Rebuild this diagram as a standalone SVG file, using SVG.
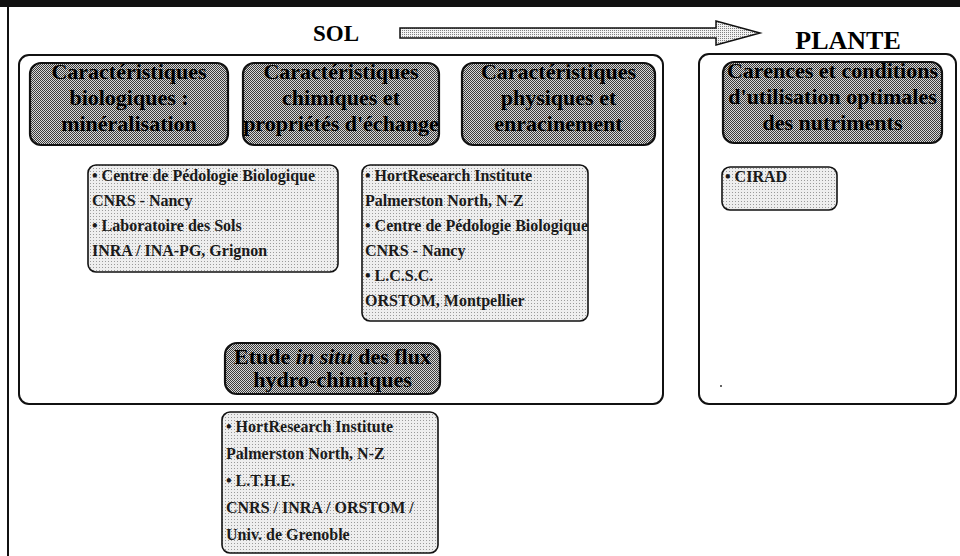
<svg xmlns="http://www.w3.org/2000/svg" width="960" height="556" viewBox="0 0 960 556">
<defs>
  <pattern id="dk" width="2" height="2" patternUnits="userSpaceOnUse">
    <rect width="2" height="2" fill="#d8d8d8"/>
    <rect width="1" height="1" fill="#3a3a3a"/>
    <rect x="1" y="1" width="1" height="1" fill="#3a3a3a"/>
  </pattern>
  <pattern id="lt" width="3" height="3" patternUnits="userSpaceOnUse">
    <rect width="3" height="3" fill="#eeeeee"/>
    <rect width="1" height="1" fill="#9a9a9a"/>
  </pattern>
  <pattern id="ar" width="2" height="2" patternUnits="userSpaceOnUse">
    <rect width="2" height="2" fill="#f2f2f2"/>
    <rect width="1" height="1" fill="#808080"/>
  </pattern>
</defs>
<style>
  .panel{fill:#fff;stroke:#111;stroke-width:2}
  .head{fill:url(#dk);stroke:#111;stroke-width:2.2}
  .sub{fill:url(#lt);stroke:#111;stroke-width:1.6}
  .ht{font-family:"Liberation Serif","Times New Roman",serif;font-weight:bold;font-size:22px;fill:#000;text-anchor:middle}
  .st{font-family:"Liberation Serif","Times New Roman",serif;font-weight:bold;font-size:16px;fill:#1a1a1a}
  .tt{font-family:"Liberation Serif","Times New Roman",serif;font-weight:bold;fill:#000}
</style>
<rect x="0" y="0" width="960" height="556" fill="#fff"/>
<rect x="0" y="0" width="960" height="7" fill="#111"/>
<line x1="8" y1="7" x2="8" y2="556" stroke="#111" stroke-width="2"/>

<g id="title-sol"><text class="tt" x="336" y="41" font-size="23" text-anchor="middle">SOL</text></g>
<g id="title-plante"><text class="tt" x="848" y="49" font-size="26" text-anchor="middle">PLANTE</text></g>

<g id="connectors">
  <path d="M400,28 L716,28 L716,21 L760,33 L716,45 L716,38 L400,38 Z" fill="url(#ar)" stroke="#111" stroke-width="1.5"/>
</g>

<g id="panel-sol"><rect class="panel" x="19" y="55" width="644" height="349" rx="10"/></g>
<g id="panel-plante"><rect class="panel" x="699" y="54" width="257" height="350" rx="10"/><circle cx="721" cy="386" r="1" fill="#333"/></g>

<g id="n-bio">
  <rect class="head" x="30" y="63" width="198" height="82" rx="11"/>
  <text class="ht" x="129" y="79">Caractéristiques</text>
  <text class="ht" x="129" y="105">biologiques :</text>
  <text class="ht" x="129" y="131">minéralisation</text>
</g>
<g id="n-chim">
  <rect class="head" x="243" y="63" width="196" height="82" rx="11"/>
  <text class="ht" x="341" y="79">Caractéristiques</text>
  <text class="ht" x="341" y="105">chimiques et</text>
  <text class="ht" x="341" y="131">propriétés d'échange</text>
</g>
<g id="n-phys">
  <rect class="head" x="462" y="63" width="193" height="82" rx="11"/>
  <text class="ht" x="558.5" y="79">Caractéristiques</text>
  <text class="ht" x="558.5" y="105">physiques et</text>
  <text class="ht" x="558.5" y="131">enracinement</text>
</g>
<g id="n-carences">
  <rect class="head" x="723" y="62" width="219" height="81" rx="11"/>
  <text class="ht" x="832.5" y="78">Carences et conditions</text>
  <text class="ht" x="832.5" y="104">d'utilisation optimales</text>
  <text class="ht" x="832.5" y="130">des nutriments</text>
</g>

<g id="n-labs-bio">
  <rect class="sub" x="88" y="165" width="250" height="107" rx="8"/>
  <text class="st" x="92" y="181">• Centre de Pédologie Biologique</text>
  <text class="st" x="92" y="206">CNRS - Nancy</text>
  <text class="st" x="92" y="231">• Laboratoire des Sols</text>
  <text class="st" x="92" y="256">INRA / INA-PG, Grignon</text>
</g>
<g id="n-labs-phys">
  <rect class="sub" x="362" y="165" width="226" height="156" rx="8"/>
  <text class="st" x="365" y="181">• HortResearch Institute</text>
  <text class="st" x="365" y="206">Palmerston North, N-Z</text>
  <text class="st" x="365" y="231">• Centre de Pédologie Biologique</text>
  <text class="st" x="365" y="256">CNRS - Nancy</text>
  <text class="st" x="365" y="281">• L.C.S.C.</text>
  <text class="st" x="365" y="306">ORSTOM, Montpellier</text>
</g>
<g id="n-cirad">
  <rect class="sub" x="722" y="167" width="115" height="43" rx="8"/>
  <text class="st" x="725" y="182">• CIRAD</text>
</g>
<g id="n-etude">
  <rect class="head" x="225" y="343" width="215" height="51" rx="12"/>
  <text class="ht" x="332.5" y="364" font-size="20">Etude <tspan font-style="italic">in situ</tspan> des flux</text>
  <text class="ht" x="332.5" y="387" font-size="20">hydro-chimiques</text>
</g>
<g id="n-labs-hydro">
  <rect class="sub" x="222" y="412" width="216" height="141" rx="8"/>
  <text class="st" x="226" y="432">• HortResearch Institute</text>
  <text class="st" x="226" y="459">Palmerston North, N-Z</text>
  <text class="st" x="226" y="486">• L.T.H.E.</text>
  <text class="st" x="226" y="513">CNRS / INRA / ORSTOM /</text>
  <text class="st" x="226" y="540">Univ. de Grenoble</text>
</g>
</svg>
